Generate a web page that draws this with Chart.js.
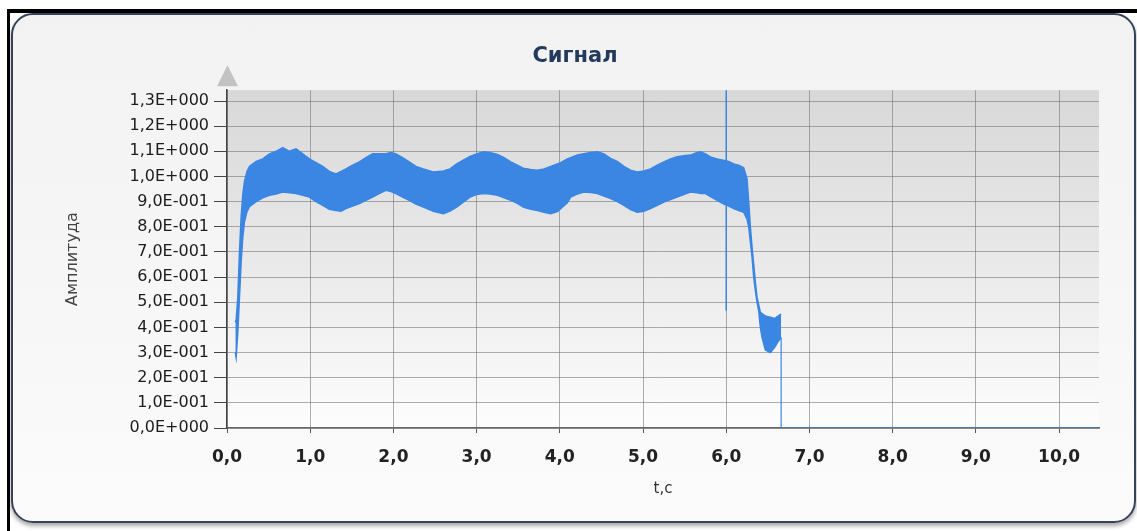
<!DOCTYPE html>
<html>
<head>
<meta charset="utf-8">
<script src="https://cdn.jsdelivr.net/npm/chart.js@4.4.1/dist/chart.umd.min.js"></script>
<style>
  html, body { margin: 0; padding: 0; background: #ffffff; }
  #stage { position: relative; width: 1137px; height: 531px; overflow: hidden; }
  #frame {
    position: absolute; left: 7px; top: 9px; width: 1130px; height: 530px;
    border-top: 4px solid #000; border-left: 3px solid #000; box-sizing: border-box;
  }
  #panel {
    position: absolute; left: 11px; top: 13px; width: 1125px; height: 510px;
    box-sizing: border-box; border: 2px solid #35425a; border-radius: 22px;
    background: linear-gradient(#f2f2f2, #f7f7f7 60%, #fbfbfb);
    box-shadow: 0 3px 4px rgba(0,0,0,0.35);
  }
  #chart { position: absolute; left: 0; top: 0; }
</style>
</head>
<body>
<div id="stage">
  <div id="frame"></div>
  <div id="panel"></div>
  <canvas id="chart" width="1137" height="531"></canvas>
</div>
<script>
// Signal envelope: time (s), upper and lower bound of the oscillating amplitude
const times = [
  0.10, 0.11, 0.13, 0.15, 0.17, 0.19, 0.21, 0.24, 0.27, 0.31, 0.35, 0.43, 0.51, 0.59, 0.67, 0.75,
  0.83, 0.91, 0.99, 1.07, 1.15, 1.23, 1.31, 1.37, 1.43, 1.51, 1.59, 1.67, 1.75, 1.83, 1.91, 1.97,
  2.03, 2.11, 2.19, 2.27, 2.36, 2.48, 2.60, 2.68, 2.76, 2.84, 2.92, 3.00, 3.08, 3.16, 3.25, 3.33,
  3.41, 3.49, 3.56, 3.65, 3.73, 3.81, 3.89, 3.97, 4.01, 4.09, 4.13, 4.21, 4.29, 4.37, 4.45, 4.53,
  4.61, 4.69, 4.77, 4.85, 4.93, 5.01, 5.09, 5.17, 5.25, 5.33, 5.41, 5.49, 5.57, 5.65, 5.69, 5.75,
  5.81, 5.89, 5.96, 6.03, 6.09, 6.15, 6.21, 6.25, 6.27, 6.29, 6.31, 6.33, 6.35, 6.37, 6.39, 6.41,
  6.43, 6.47, 6.53, 6.58, 6.63, 6.66
];
const upperEnv = [
  0.42, 0.43, 0.52, 0.70, 0.84, 0.93, 0.98, 1.02, 1.04, 1.05, 1.06, 1.07, 1.09, 1.10, 1.115, 1.10,
  1.11, 1.09, 1.07, 1.055, 1.04, 1.02, 1.01, 1.02, 1.03, 1.045, 1.058, 1.075, 1.09, 1.09, 1.09, 1.095,
  1.09, 1.075, 1.058, 1.04, 1.03, 1.018, 1.022, 1.03, 1.05, 1.065, 1.08, 1.09, 1.098, 1.095, 1.088, 1.075,
  1.058, 1.045, 1.033, 1.028, 1.025, 1.03, 1.04, 1.05, 1.055, 1.07, 1.075, 1.085, 1.09, 1.095, 1.098, 1.09,
  1.072, 1.06, 1.04, 1.025, 1.018, 1.022, 1.03, 1.045, 1.058, 1.07, 1.078, 1.082, 1.085, 1.095, 1.098, 1.09,
  1.078, 1.07, 1.065, 1.06, 1.05, 1.045, 1.035, 0.99, 0.90, 0.80, 0.72, 0.652, 0.58, 0.52, 0.49, 0.46,
  0.455, 0.445, 0.44, 0.435, 0.447, 0.453
];
const lowerEnv = [
  0.30, 0.28, 0.38, 0.52, 0.66, 0.76, 0.82, 0.86, 0.88, 0.89, 0.90, 0.915, 0.925, 0.93, 0.938, 0.935,
  0.932, 0.925, 0.918, 0.90, 0.885, 0.87, 0.865, 0.862, 0.872, 0.882, 0.892, 0.905, 0.918, 0.932, 0.945, 0.94,
  0.932, 0.918, 0.905, 0.89, 0.878, 0.862, 0.852, 0.862, 0.878, 0.898, 0.918, 0.928, 0.932, 0.93, 0.925, 0.915,
  0.905, 0.893, 0.878, 0.87, 0.865, 0.858, 0.852, 0.86, 0.872, 0.895, 0.918, 0.93, 0.938, 0.936, 0.932, 0.922,
  0.912, 0.90, 0.885, 0.868, 0.858, 0.862, 0.872, 0.885, 0.898, 0.908, 0.918, 0.928, 0.938, 0.935, 0.932, 0.932,
  0.92, 0.905, 0.892, 0.882, 0.872, 0.865, 0.858, 0.83, 0.80, 0.74, 0.68, 0.60, 0.546, 0.50, 0.466, 0.40,
  0.36, 0.31, 0.30, 0.32, 0.347, 0.36
];
// Short transient at t = 6,0 s
const spikeX = [6.0, 6.0];
const spikeY = [1.343, 0.466];
// Signal cut-off and zero level afterwards
const tailX = [6.66, 6.66, 10.45];
const tailY = [0.36, 0.0, 0.0];
// Axis ticks
const xTickValues = [0, 1, 2, 3, 4, 5, 6, 7, 8, 9, 10];
const yTickValues = [0, 0.1, 0.2, 0.3, 0.4, 0.5, 0.6, 0.7, 0.8, 0.9, 1.0, 1.1, 1.2, 1.3];

const BLUE = '#3a86e2';
const pts = (xs, ys) => xs.map((x, i) => ({ x: x, y: ys[i] }));

function sci(v) {
  v = Math.round(v * 10) / 10;
  if (v === 0) return '0,0E+000';
  const e = Math.floor(Math.log10(v) + 1e-9);
  const m = (v / Math.pow(10, e)).toFixed(1).replace('.', ',');
  const s = e < 0 ? '-' : '+';
  return m + 'E' + s + String(Math.abs(e)).padStart(3, '0');
}

// Grey gradient behind the plot and the arrow cap on the value axis
const plotDecor = {
  id: 'plotDecor',
  beforeDraw(chart) {
    const { ctx, chartArea: a } = chart;
    const g = ctx.createLinearGradient(0, a.top, 0, a.bottom);
    g.addColorStop(0, '#d8d8d8');
    g.addColorStop(0.5, '#e9e9e9');
    g.addColorStop(1, '#fdfdfd');
    ctx.save();
    ctx.fillStyle = g;
    ctx.fillRect(a.left, a.top, a.right - a.left, a.bottom - a.top);
    ctx.fillStyle = '#c2c2c2';
    ctx.beginPath();
    ctx.moveTo(a.left + 0.5, a.top - 25);
    ctx.lineTo(a.left + 11, a.top - 4);
    ctx.lineTo(a.left - 10, a.top - 4);
    ctx.closePath();
    ctx.fill();
    ctx.restore();
  }
};

new Chart(document.getElementById('chart'), {
  type: 'line',
  data: {
    datasets: [
      { data: pts(times, lowerEnv), borderColor: BLUE, borderWidth: 1.5, pointRadius: 0, fill: false, tension: 0 },
      { data: pts(times, upperEnv), borderColor: BLUE, borderWidth: 1.5, pointRadius: 0, fill: '-1', backgroundColor: BLUE, tension: 0 },
      { data: pts(spikeX, spikeY), borderColor: BLUE, borderWidth: 1.5, pointRadius: 0, fill: false },
      { data: pts(tailX, tailY), borderColor: BLUE, borderWidth: 1.2, pointRadius: 0, fill: false }
    ]
  },
  options: {
    responsive: false,
    animation: false,
    events: [],
    layout: { padding: { left: 51, right: 38, top: 30, bottom: 20 } },
    plugins: {
      legend: { display: false },
      tooltip: { enabled: false },
      title: {
        display: true,
        text: 'Сигнал',
        color: '#243a5c',
        font: { family: 'DejaVu Sans', size: 21, weight: 'bold', lineHeight: 1.2 },
        padding: { top: 14, bottom: 21 }
      }
    },
    scales: {
      x: {
        type: 'linear',
        min: 0,
        max: 10.48,
        afterFit(s) { s.height = 83; },
        afterBuildTicks(s) { s.ticks = xTickValues.map(v => ({ value: v })); },
        ticks: {
          color: '#222',
          padding: 14,
          maxRotation: 0,
          autoSkip: false,
          font: { family: 'DejaVu Sans', size: 17, weight: 'bold' },
          callback: v => v.toFixed(1).replace('.', ',')
        },
        grid: { color: 'rgba(110,110,110,0.55)', lineWidth: 1, tickLength: 5, tickColor: '#555' },
        border: { color: '#666', width: 1.5 },
        title: {
          display: true,
          text: 't,c',
          color: '#333',
          font: { family: 'DejaVu Sans', size: 15 },
          padding: { top: 0, bottom: 13 }
        }
      },
      y: {
        type: 'linear',
        min: 0,
        max: 1.343,
        afterFit(s) { s.width = 176; },
        afterBuildTicks(s) { s.ticks = yTickValues.map(v => ({ value: v })); },
        ticks: {
          color: '#1c1c1c',
          padding: 5,
          autoSkip: false,
          font: { family: 'DejaVu Sans', size: 16 },
          callback: v => sci(v)
        },
        grid: { color: 'rgba(110,110,110,0.55)', lineWidth: 1, tickLength: 13, tickColor: '#444' },
        border: { color: '#444', width: 1.5 },
        title: {
          display: true,
          text: 'Амплитуда',
          color: '#444',
          font: { family: 'DejaVu Sans', size: 16 },
          padding: { top: 12, bottom: 0 }
        }
      }
    }
  },
  plugins: [plotDecor]
});
</script>
</body>
</html>
